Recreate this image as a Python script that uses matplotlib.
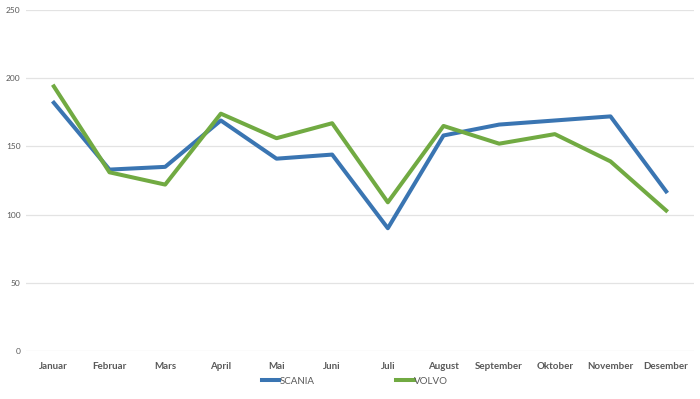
import matplotlib.pyplot as plt
import numpy as np

months = ['Januar', 'Februar', 'Mars', 'April', 'Mai', 'Juni', 'Juli',
          'August', 'September', 'Oktober', 'November', 'Desember']
scania = [182, 133, 135, 169, 141, 144, 90, 158, 166, 169, 172, 117]
volvo = [194, 131, 122, 174, 156, 167, 109, 165, 152, 159, 139, 103]
yticks = [0, 50, 100, 150, 200, 250]

plt.rcParams['font.family'] = ['Lato', 'DejaVu Sans']

fig = plt.figure(figsize=(7, 3.99), dpi=100)
ax = fig.add_axes([26/700, 48/399, 668/700, 341/399])

x = np.arange(len(months))
ax.plot(x, scania, color='#3a75b2', lw=2.9, label='SCANIA')
ax.plot(x, volvo, color='#71aa42', lw=2.9, label='VOLVO')

ax.set_xlim(-0.5, len(months) - 0.5)
ax.set_ylim(0, 250)
ax.set_yticks(yticks)
ax.set_xticks(x)
ax.set_xticklabels(months, fontsize=7, fontweight='bold', color='#595959')
ax.set_yticklabels([str(v) for v in yticks], fontsize=6, color='#595959')
ax.tick_params(axis='both', length=0)
ax.tick_params(axis='x', pad=8)
ax.tick_params(axis='y', pad=4)
ax.grid(axis='y', color='#e3e3e3', lw=0.9)
ax.set_axisbelow(True)
for s in ax.spines.values():
    s.set_visible(False)

leg = fig.legend(loc='center', bbox_to_anchor=(0.507, 1 - 381/399),
                 ncol=2, frameon=False, fontsize=7, handlelength=1.8,
                 handletextpad=0.05, columnspacing=8.4)
for t in leg.get_texts():
    t.set_color('#595959')

fig.savefig('out.png', dpi=100)
